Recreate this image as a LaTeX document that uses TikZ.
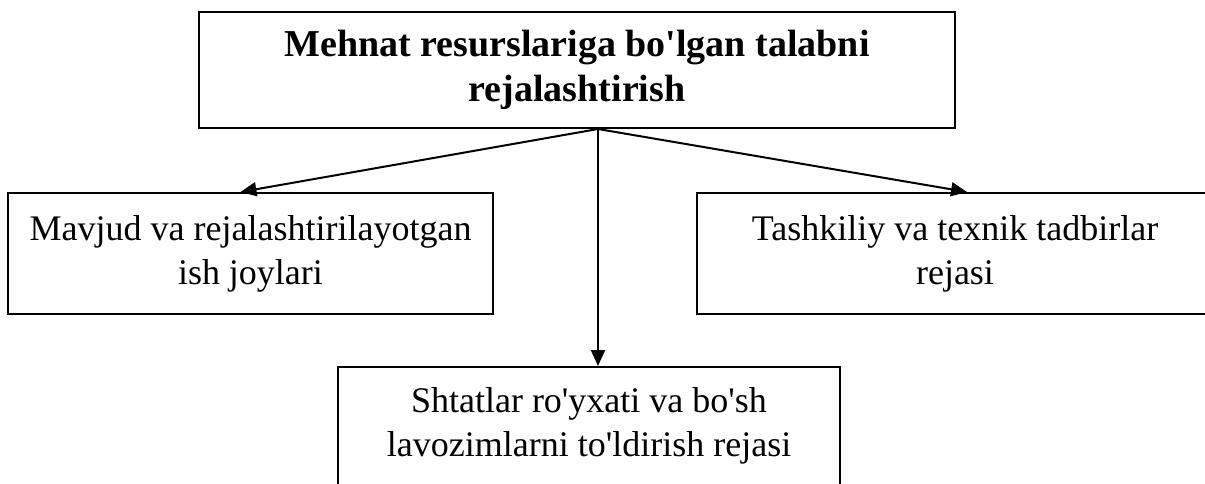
\documentclass[tikz,border=0pt]{standalone}
\usepackage{fontspec}
\setmainfont{Liberation Serif}
\usepackage{tikz}
\usetikzlibrary{positioning, arrows.meta, calc}

\tikzset{
	blok/.style={draw, line width=2pt, align=center, inner sep=0pt, font=\fontsize{36}{44}\selectfont},
	strelka/.style={line width=2pt, -{Triangle[length=16pt, width=14pt]}}
}

\begin{document}
\begin{tikzpicture}[x=1pt, y=-1pt]

	\useasboundingbox (0,0) rectangle (1205,483);

	\node [blok, minimum width=756pt, minimum height=116pt, font=\bfseries\fontsize{38}{45}\selectfont] (talab) at (577,70)
		{Mehnat resurslariga bo\textquotesingle lgan talabni\\rejalashtirish};
	\node [blok, minimum width=485pt, minimum height=121pt] (joylar) at (250.5,253.5)
		{Mavjud va rejalashtirilayotgan\\ish joylari};
	\node [blok, minimum width=516pt, minimum height=121pt] (tadbir) at (955,253.5)
		{Tashkiliy va texnik tadbirlar\\rejasi};
	\node [blok, minimum width=502pt, minimum height=118pt] (shtat) at (589,426)
		{Shtatlar ro\textquotesingle yxati va bo\textquotesingle sh\\lavozimlarni to\textquotesingle ldirish rejasi};

	\coordinate (manba) at ([xshift=21pt]talab.south);
	\draw [strelka] (manba) -- ([xshift=-10pt]joylar.north);
	\draw [strelka] (manba) -- ([xshift=12pt]tadbir.north);
	\draw [strelka] (manba) -- ([xshift=9pt]shtat.north);

\end{tikzpicture}
\end{document}
